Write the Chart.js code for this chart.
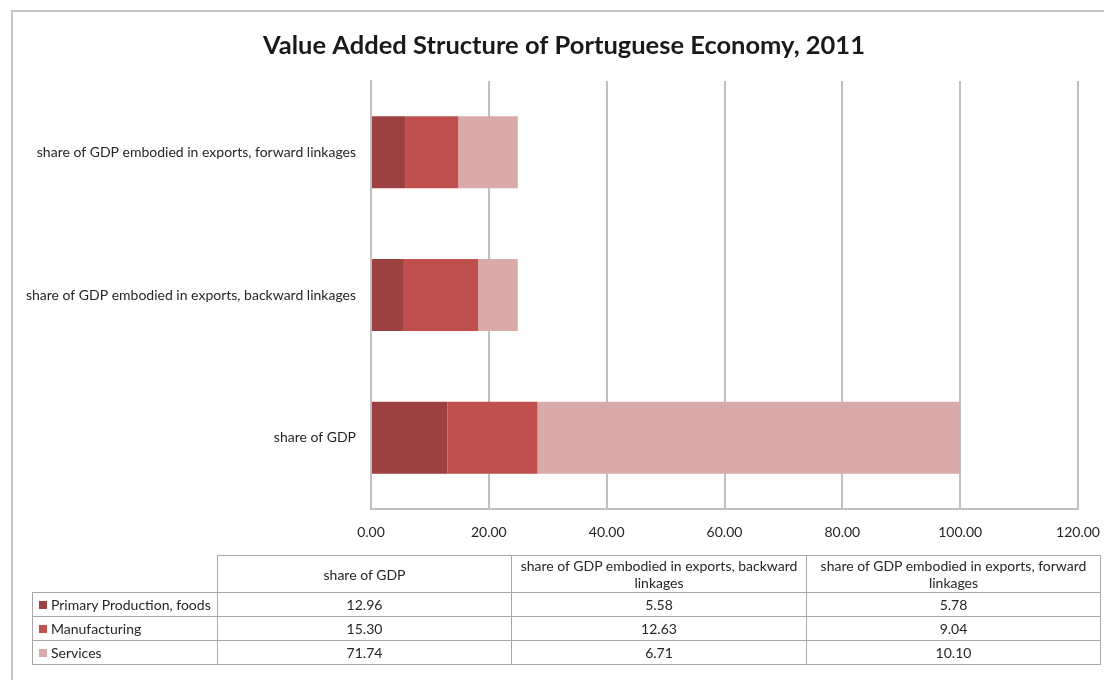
<!DOCTYPE html>
<html>
<head>
<meta charset="utf-8">
<script src="https://cdn.jsdelivr.net/npm/chart.js@4"></script>
<style>
  html, body { margin: 0; padding: 0; background: #fff; overflow: hidden; }
  body { width: 1104px; height: 680px; position: relative; font-family: Lato, "Open Sans", sans-serif; }
  #frame { position: absolute; left: 11px; top: 10px; width: 1200px; height: 800px;
           border-left: 2px solid #c6c6c6; border-top: 2px solid #c6c6c6; }
  #chartBox { position: absolute; left: 0; top: 0; width: 1104px; height: 560px; }
  #dataTable { position: absolute; left: 32px; top: 555px; border-collapse: collapse;
               table-layout: fixed; width: 1068px; font-size: 14px; color: #262626; }
  #dataTable td { border: 1.5px solid #a8a8a8; text-align: center; padding: 0 4px; line-height: 17px; overflow: hidden; }
  #dataTable tr.head td { height: 36px; }
  #dataTable tr.row td { height: 23px; }
  #dataTable td.blank { border-top: none; border-left: none; }
  #dataTable td.name { text-align: left; padding-left: 6px; white-space: nowrap; }
  .key { display: inline-block; width: 8px; height: 8px; margin-right: 4px; vertical-align: 1px; }
</style>
</head>
<body>
<div id="frame"></div>
<div id="chartBox"><canvas id="myChart" width="1104" height="560"></canvas></div>
<table id="dataTable">
  <colgroup><col style="width:185px"><col style="width:294px"><col style="width:295px"><col style="width:294px"></colgroup>
</table>

<script>
// categories in table order (bottom bar first)
const categories = [
    "share of GDP",
    "share of GDP embodied in exports, backward linkages",
    "share of GDP embodied in exports, forward linkages"
];
const seriesNames = ["Primary Production, foods", "Manufacturing", "Services"];
const primaryValues = [12.96, 5.58, 5.78];
const manufacturingValues = [15.30, 12.63, 9.04];
const servicesValues = [71.74, 6.71, 10.10];
const xTickValues = [0, 20, 40, 60, 80, 100, 120];
const colors = ["#9c4141", "#c0504d", "#d9aaaa"];
const chartTitle = "Value Added Structure of Portuguese Economy, 2011";

const allValues = [primaryValues, manufacturingValues, servicesValues];

// horizontal bars list top to bottom, so flip the order
const chartLabels = categories.slice().reverse();

// title is centred on the whole frame, not just the canvas
const frameTitle = {
    id: "frameTitle",
    afterDraw(chart, args, opts) {
        const c = chart.ctx;
        c.save();
        c.font = "bold 25.5px Lato";
        c.fillStyle = "#1a1a1a";
        c.textAlign = "center";
        c.textBaseline = "middle";
        c.fillText(opts.text, opts.centerX, opts.centerY);
        c.restore();
    }
};

const ctx = document.getElementById("myChart").getContext("2d");

const myChart = new Chart(ctx, {
    type: "bar",
    data: {
        labels: chartLabels,
        datasets: seriesNames.map((name, i) => ({
            label: name,
            data: allValues[i].slice().reverse(),
            backgroundColor: colors[i],
            borderWidth: 0,
            barPercentage: 0.505,
            categoryPercentage: 1
        }))
    },
    plugins: [frameTitle],
    options: {
        indexAxis: "y",
        responsive: false,
        animation: false,
        layout: { padding: { left: 0, right: 26, top: 81, bottom: 0 } },
        plugins: {
            legend: { display: false },
            tooltip: { enabled: false },
            title: { display: false },
            frameTitle: { text: chartTitle, centerX: 564, centerY: 46 }
        },
        scales: {
            x: {
                stacked: true,
                min: 0,
                max: 120,
                afterBuildTicks: (scale) => {
                    scale.ticks = xTickValues.map(v => ({ value: v }));
                },
                afterFit: (scale) => {
                    scale.height = 51;
                    // let the last label hang past the plot edge
                    scale.paddingRight = 0;
                    scale.paddingLeft = 0;
                },
                ticks: {
                    color: "#262626",
                    font: { family: "Lato", size: 14 },
                    padding: 15,
                    maxRotation: 0,
                    callback: (v) => Number(v).toFixed(2)
                },
                grid: { color: "#c0c0c0", lineWidth: 2, drawTicks: false },
                border: { color: "#c0c0c0", width: 2 }
            },
            y: {
                stacked: true,
                afterFit: (scale) => { scale.width = 371; },
                ticks: {
                    color: "#262626",
                    font: { family: "Lato", size: 14 },
                    padding: 15
                },
                grid: { display: false, drawTicks: false },
                border: { color: "#c0c0c0", width: 2 }
            }
        }
    }
});

// data table underneath the plot
const table = document.getElementById("dataTable");
const head = document.createElement("tr");
head.className = "head";
const blank = document.createElement("td");
blank.className = "blank";
head.appendChild(blank);
for (let cat of categories) {
    const td = document.createElement("td");
    td.textContent = cat;
    head.appendChild(td);
}
table.appendChild(head);

seriesNames.forEach((name, i) => {
    const tr = document.createElement("tr");
    tr.className = "row";
    const nameCell = document.createElement("td");
    nameCell.className = "name";
    nameCell.innerHTML = `<span class="key" style="background:${colors[i]}"></span>${name}`;
    tr.appendChild(nameCell);
    for (let v of allValues[i]) {
        const td = document.createElement("td");
        td.textContent = v.toFixed(2);
        tr.appendChild(td);
    }
    table.appendChild(tr);
});
</script>
</body>
</html>
